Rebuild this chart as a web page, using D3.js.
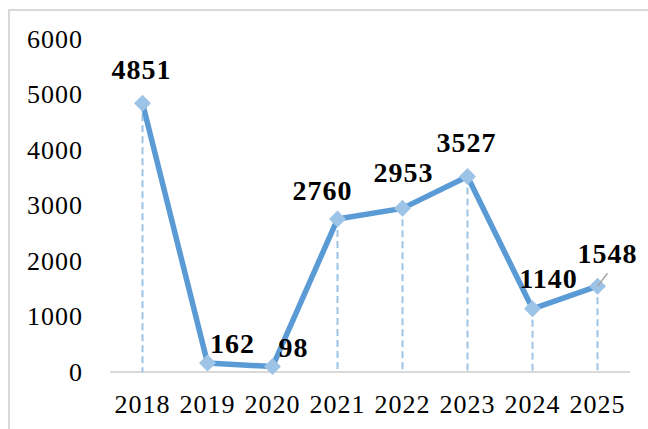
<!DOCTYPE html>
<html lang="en">
    <head>
        <meta charset="utf-8">
        <title>Line chart 2018-2025</title>
        <script type="text/javascript" src="https://cdn.jsdelivr.net/npm/d3@7"></script>
        <style>
            body { margin: 0; background: #fff; }
        </style>
    </head>
    <body>
        <script type="text/javascript">
            var years = ["2018", "2019", "2020", "2021", "2022", "2023", "2024", "2025"];
            var values = [4851, 162, 98, 2760, 2953, 3527, 1140, 1548];
            var yTicks = [0, 1000, 2000, 3000, 4000, 5000, 6000];
            // label offsets from each point (dx, dy of baseline)
            var labelDx = [-1, 25, 21, -15, 1, -1, 16, 10];
            var labelDy = [-24, -10, -10, -19, -26, -25, -21, -23];

            var w = 648;
            var h = 429;
            var svg = d3.select("body").append("svg").attr("width", w).attr("height", h);

            // outer frame, only left and top edges are visible
            svg.append("rect")
               .attr("x", 9).attr("y", 10)
               .attr("width", 660).attr("height", 440)
               .attr("fill", "none")
               .attr("stroke", "#d9d9d9")
               .attr("stroke-width", 2);

            var xscale = d3.scaleBand().domain(years).range([110, 630]);
            var yscale = d3.scaleLinear().domain([0, 6000]).range([372, 39.5]);
            var cx = function (d, i) { return xscale(years[i]) + xscale.bandwidth() / 2; };

            // y tick labels
            svg.selectAll("text.ytick").data(yTicks).enter().append("text")
               .attr("class", "ytick")
               .text(function (d) { return d; })
               .attr("x", 83)
               .attr("y", function (d) { return yscale(d) + 8.5; })
               .attr("text-anchor", "end")
               .attr("font-family", "'Liberation Serif', serif")
               .attr("font-size", "26px")
               .attr("letter-spacing", "1px")
               .attr("fill", "#000");

            // x axis line
            svg.append("line")
               .attr("x1", 110).attr("x2", 630)
               .attr("y1", yscale(0)).attr("y2", yscale(0))
               .attr("stroke", "#d9d9d9")
               .attr("stroke-width", 2);

            // x tick labels
            svg.selectAll("text.xtick").data(years).enter().append("text")
               .attr("class", "xtick")
               .text(function (d) { return d; })
               .attr("x", function (d) { return xscale(d) + xscale.bandwidth() / 2; })
               .attr("y", 413)
               .attr("text-anchor", "middle")
               .attr("font-family", "'Liberation Serif', serif")
               .attr("font-size", "26px")
               .attr("letter-spacing", "1px")
               .attr("fill", "#000");

            // drop lines
            svg.selectAll("line.drop").data(values).enter().append("line")
               .attr("class", "drop")
               .attr("x1", cx).attr("x2", cx)
               .attr("y1", function (d) { return yscale(d); })
               .attr("y2", yscale(0))
               .attr("stroke", "#9dc3e6")
               .attr("stroke-width", 2)
               .attr("stroke-dasharray", "7,4");

            // main line
            var line = d3.line()
                .x(function (d, i) { return cx(d, i); })
                .y(function (d) { return yscale(d); });
            svg.append("path")
               .datum(values)
               .attr("d", line)
               .attr("fill", "none")
               .attr("stroke", "#5b9bd5")
               .attr("stroke-width", 5.5)
               .attr("stroke-linejoin", "round");

            // diamond markers
            svg.selectAll("path.marker").data(values).enter().append("path")
               .attr("class", "marker")
               .attr("d", d3.symbol().type(d3.symbolDiamond2).size(185))
               .attr("transform", function (d, i) { return "translate(" + cx(d, i) + "," + yscale(d) + ")"; })
               .attr("fill", "#9dc3e6");

            // leader line for the last label
            var lastI = values.length - 1;
            svg.append("line")
               .attr("x1", cx(values[lastI], lastI)).attr("y1", yscale(values[lastI]))
               .attr("x2", cx(values[lastI], lastI) + 10).attr("y2", yscale(values[lastI]) - 13)
               .attr("stroke", "#a6a6a6")
               .attr("stroke-width", 1.5);

            // data labels
            svg.selectAll("text.label").data(values).enter().append("text")
               .attr("class", "label")
               .text(function (d) { return d; })
               .attr("x", function (d, i) { return cx(d, i) + labelDx[i]; })
               .attr("y", function (d, i) { return yscale(d) + labelDy[i]; })
               .attr("text-anchor", "middle")
               .attr("font-family", "'Liberation Serif', serif")
               .attr("font-weight", "bold")
               .attr("font-size", "28px")
               .attr("letter-spacing", "1px")
               .attr("fill", "#000");
        </script>
    </body>
</html>
